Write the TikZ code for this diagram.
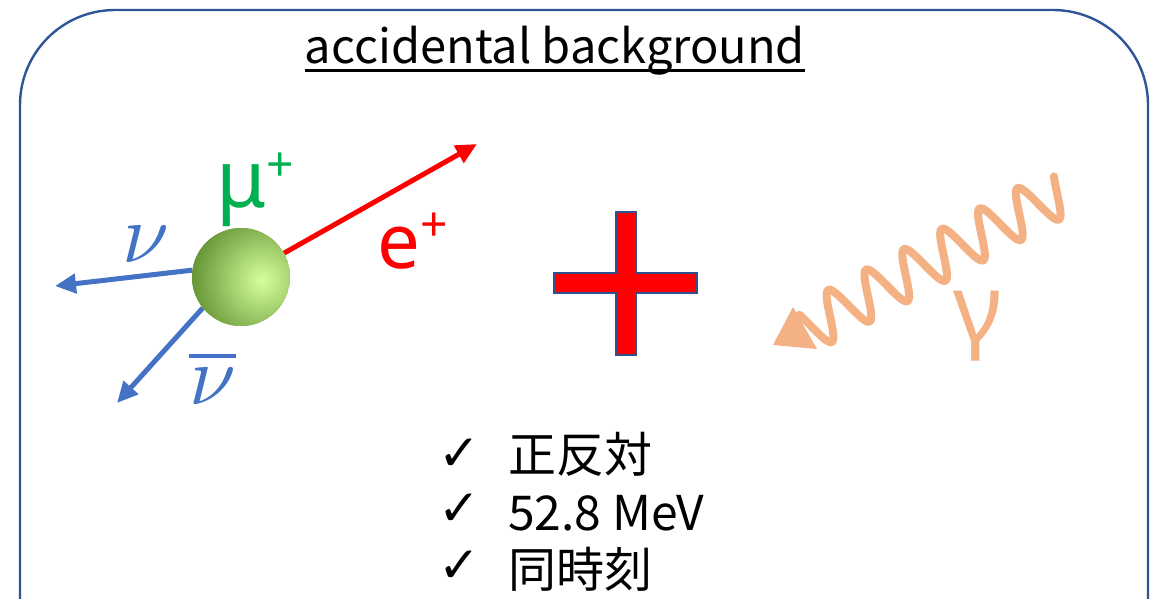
\documentclass[tikz,border=0pt]{standalone}
\usepackage{graphicx}
\usepackage{fontspec}
\usetikzlibrary{arrows.meta}
\newfontfamily\jpfont{Noto Sans CJK JP}
\newfontfamily\grfont{Noto Sans}
\newfontfamily\symfont{DejaVu Sans}
\definecolor{boxblue}{HTML}{2F5597}
\definecolor{nublue}{HTML}{4472C4}
\definecolor{mugreen}{HTML}{00B050}
\definecolor{photon}{HTML}{F4B183}
\definecolor{crossedge}{HTML}{2F528F}
\definecolor{balldark}{HTML}{5A8A2A}
\definecolor{balllight}{HTML}{D6FF9C}
\begin{document}
\begin{tikzpicture}[x=1pt,y=-1pt,
  track/.style={line width=5pt,-{Triangle[length=21pt,width=19pt]}},
  lbl/.style={anchor=base west,inner sep=0pt},
  checkmark/.style={lbl,font=\symfont\bfseries\fontsize{50}{50}\selectfont},
  listtext/.style={lbl,font=\jpfont\fontsize{48}{48}\selectfont}]
\useasboundingbox (0,0) rectangle (1156,599);
\clip (0,0) rectangle (1156,599);
\fill[white] (0,0) rectangle (1156,599);

% frame
\draw[boxblue,line width=2.4pt,rounded corners=95pt] (20,10) rectangle (1148,720);

% heading
\node[anchor=base,inner sep=0pt,font=\jpfont\fontsize{47}{47}\selectfont] (title) at (555,64) {accidental background};
\draw[line width=3pt] ([yshift=-7pt]title.base west) -- ([yshift=-7pt]title.base east);

% decaying muon and its products
\node[circle,minimum size=98pt,inner sep=0pt] (mu) at (241,277) {};
\coordinate (etip) at (477,144);
\coordinate (nutip) at (55,286);
\coordinate (nubartip) at (117,403);
\draw[track,red] (mu.29) -- (etip);
\draw[track,nublue] (mu.172) -- (nutip);
\draw[track,nublue] (mu.219) -- (nubartip);
\begin{scope}
  \clip (mu.center) circle (49);
  \fill[balldark] (mu.center) circle (49);
  \shade[inner color=balllight,outer color=balldark] (262,280) circle (78);
\end{scope}

\node[lbl,text=mugreen,font=\grfont\fontsize{80}{80}\selectfont] (mulabel) at (216,207)
  {μ\raisebox{26pt}{\fontsize{48}{48}\selectfont +}};
\node[lbl,text=red,font=\grfont\fontsize{76}{76}\selectfont] (elabel) at (377,268)
  {e\raisebox{27pt}{\fontsize{48}{48}\selectfont +}};
\node[lbl,text=nublue] (nulabel) at (122,262) {\scalebox{8.4}{$\nu$}};
\node[lbl,text=nublue] (nubarlabel) at (189,404) {\scalebox{8.4}{$\overline{\nu}$}};

% plus sign
\draw[fill=red,draw=crossedge,line width=2pt]
  (616,212) -- (636,212) -- (636,273) -- (697,273) -- (697,293) -- (636,293)
  -- (636,355) -- (616,355) -- (616,293) -- (554,293) -- (554,273) -- (616,273) -- cycle;

% incoming photon: sine wave along a 28.3 degree axis, parameter in periods
\draw[photon,line width=8pt,line cap=round,line join=round]
  plot[domain=0:6.744,samples=400]
  ({806.7+37.86*\x-11.19*cos(360*(\x-0.865))},
   {328.5-20.39*\x-20.78*cos(360*(\x-0.865))});
\fill[photon] (793,307) -- (773,345) -- (817,349) -- cycle;
\node[lbl,text=photon,font=\grfont\fontsize{94}{94}\selectfont] (gamma) at (953,341) {γ};

% conditions
\node[checkmark] (c1) at (438,470) {✓};
\node[listtext] (t1) at (508,472) {正反対};
\node[checkmark] (c2) at (438,525) {✓};
\node[listtext] (t2) at (508,530) {52.8 MeV};
\node[checkmark] (c3) at (438,582) {✓};
\node[listtext] (t3) at (508,587) {同時刻};
\end{tikzpicture}
\end{document}
